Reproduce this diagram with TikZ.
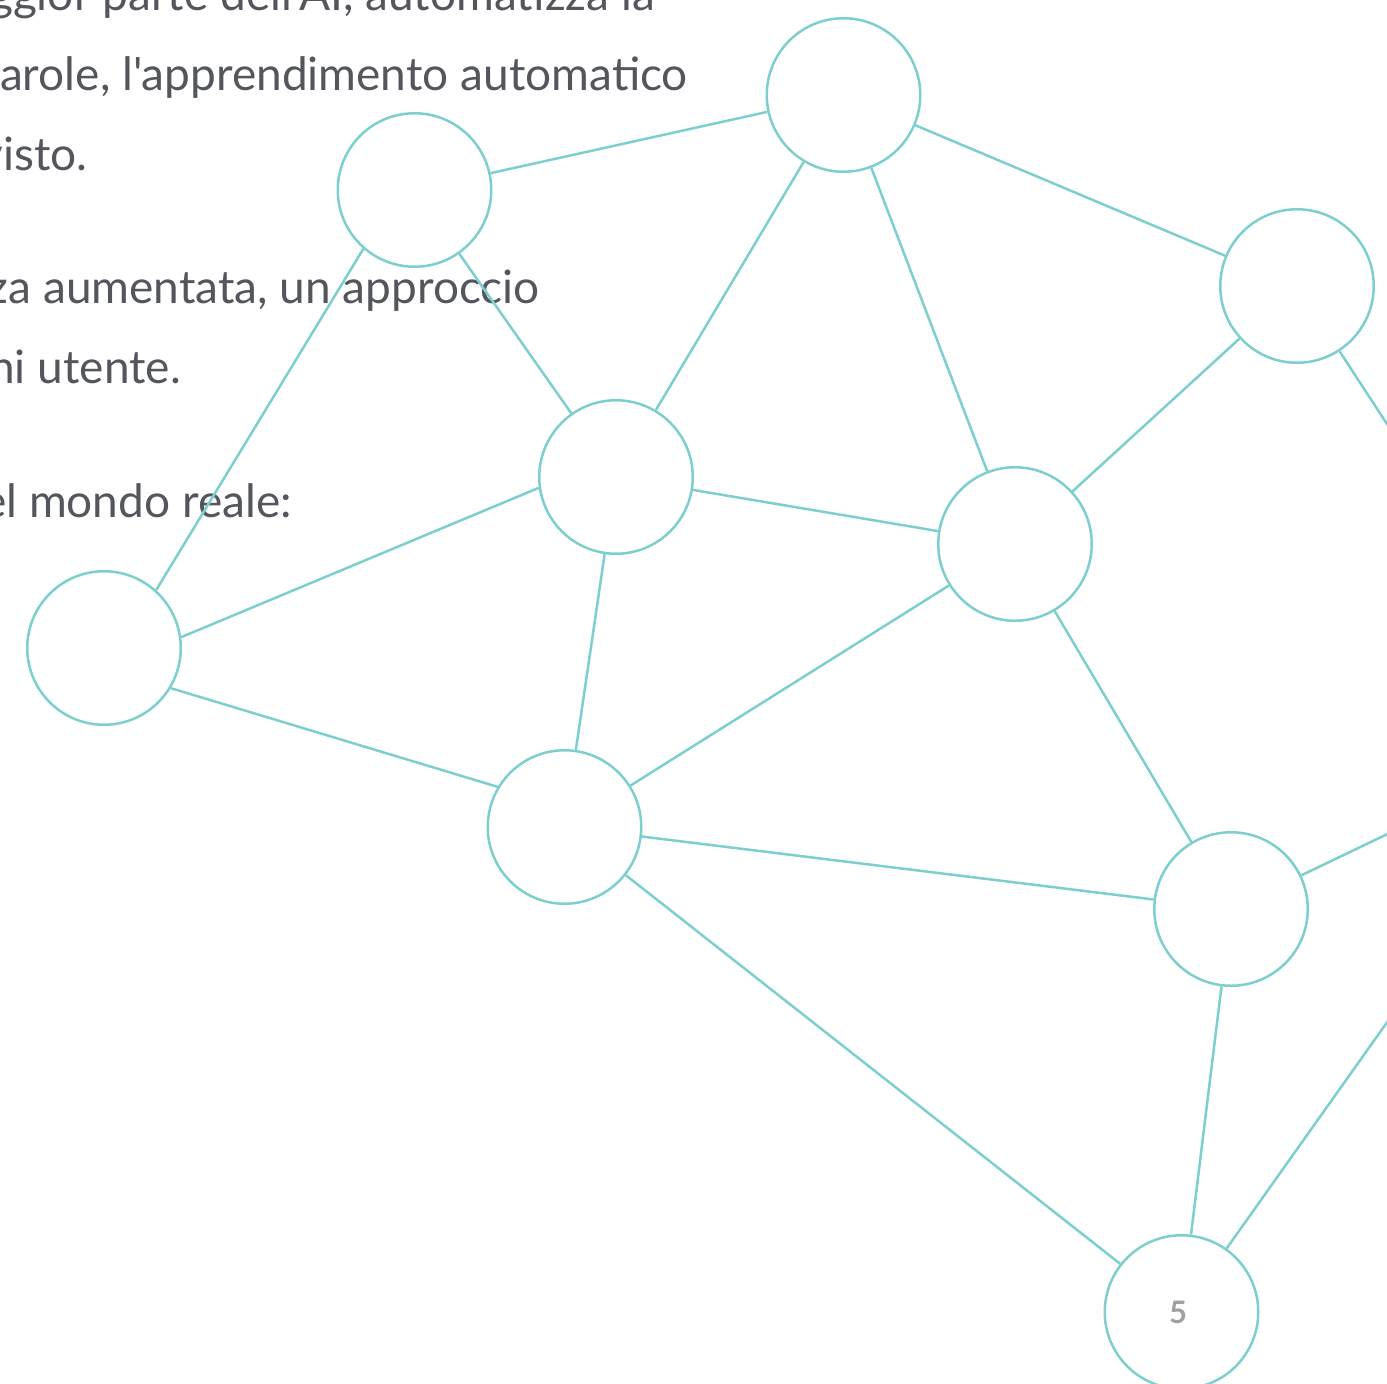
\documentclass[tikz,border=0pt]{standalone}
\usepackage{fontspec}
\setmainfont{Lato}[Ligatures=TeXOff]
\definecolor{teal1}{RGB}{125,207,206}
\definecolor{txt}{RGB}{84,86,93}
\definecolor{numgray}{RGB}{160,160,160}
\begin{document}
\begin{tikzpicture}[x=1pt,y=-1pt,
  netnode/.style={circle,draw=teal1,line width=2.5pt,minimum size=153.5pt,inner sep=0pt},
  link/.style={draw=teal1,line width=2.5pt},
  bodytext/.style={anchor=base east,inner sep=0pt,text=txt,font=\fontsize{46}{46}\selectfont}]
\clip (0,0) rectangle (1387,1384);
\useasboundingbox (0,0) rectangle (1387,1384);
% text
\node[bodytext] (t1) at (655,10) {ggior parte dell'AI, automatizza la};
\node[bodytext] (t2) at (688,90) {arole, l'apprendimento automatico};
\node[bodytext] (t3) at (88,170) {visto.};
\node[bodytext] (t4) at (540,303) {za aumentata, un approccio};
\node[bodytext] (t5) at (181,383) {ni utente.};
\node[bodytext] (t6) at (292,517) {el mondo reale:};
% nodes
\node[netnode] (A) at (843.5,95) {};
\node[netnode] (B) at (414.5,190) {};
\node[netnode] (C) at (1297,286) {};
\node[netnode] (D) at (616,477) {};
\node[netnode] (E) at (1015,544) {};
\node[netnode] (F) at (104,648) {};
\node[netnode] (G) at (564.5,827) {};
\node[netnode] (H) at (1231,909) {};
\node[netnode] (I) at (1181.5,1312) {};
\node[text=numgray,font=\fontsize{31}{31}\selectfont\bfseries] (n5) at (1178,1312) {5};
% free ends
\coordinate (xc) at (1400,444);
\coordinate (xh) at (1400,828);
\coordinate (xi) at (1400,1004);
% links
\draw[link] (B) -- (A);
\draw[link] (A) -- (D);
\draw[link] (A) -- (E);
\draw[link] (A) -- (C);
\draw[link] (B) -- (D);
\draw[link] (B.-131) -- (F.48.6);
\draw[link] (C) -- (E);
\draw[link] (C) -- (xc);
\draw[link] (D) -- (E);
\draw[link] (D.188) -- (F.8);
\draw[link] (D) -- (G);
\draw[link] (E) -- (G);
\draw[link] (E) -- (H);
\draw[link] (F.-31.6) -- (G.149);
\draw[link] (G) -- (H);
\draw[link] (G) -- (I);
\draw[link] (H) -- (I);
\draw[link] (H) -- (xh);
\draw[link] (I) -- (xi);
\end{tikzpicture}
\end{document}
